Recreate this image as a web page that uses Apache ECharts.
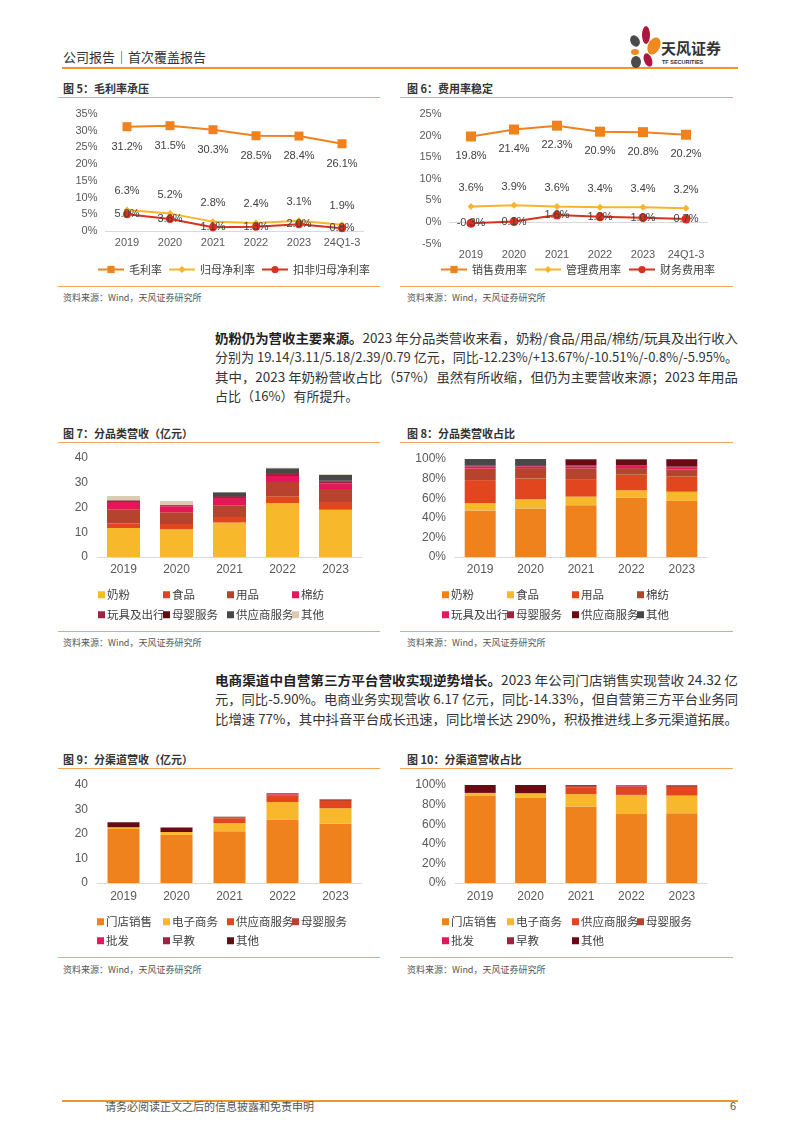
<!DOCTYPE html>
<html><head><meta charset="utf-8">
<script src="https://cdn.jsdelivr.net/npm/echarts/dist/echarts.min.js"></script>
<style>
body{margin:0;background:#fff;}
#page{position:relative;width:802px;height:1133px;overflow:hidden;background:#fff;font-family:"Liberation Sans","Noto Sans CJK SC",sans-serif;color:#333;}
.abs{position:absolute;white-space:nowrap;}
.rule{position:absolute;height:0;border-top:1.5px solid #F4A55A;}
.ttl{position:absolute;font-size:11px;font-weight:bold;color:#333;line-height:14px;white-space:nowrap;font-family:"Noto Sans CJK SC",sans-serif;}
.src{position:absolute;font-size:9px;color:#555;line-height:12px;white-space:nowrap;font-family:"Noto Sans CJK SC",sans-serif;}
.chart{position:absolute;width:350px;height:185px;}
.ln{position:absolute;left:215px;font-size:13px;line-height:18px;white-space:nowrap;transform-origin:0 0;color:#333;font-family:"Liberation Sans Narrow","Noto Sans CJK SC",sans-serif;}
.ln b{color:#222;font-family:"Noto Sans CJK SC",sans-serif;}
</style></head>
<body><div id="page">
<!-- header -->
<div class="abs" style="left:63px;top:49px;font-size:13px;line-height:16px;color:#333;font-family:'Noto Sans CJK SC',sans-serif;">公司报告｜首次覆盖报告</div>
<div style="position:absolute;left:62px;top:67px;width:676px;height:2px;background:#F0962D;"></div>
<svg style="position:absolute;left:626px;top:24px;" width="40" height="46" viewBox="0 0 40 46">
  <ellipse cx="20" cy="11" rx="4" ry="9" fill="#B0163C"/>
  <ellipse cx="9" cy="17" rx="4.5" ry="6" fill="#4A4A4A" transform="rotate(-30 9 17)"/>
  <ellipse cx="28" cy="22" rx="6" ry="9" fill="#F08A1E" transform="rotate(25 28 22)"/>
  <ellipse cx="9" cy="28" rx="4" ry="3" fill="#F08A1E"/>
  <ellipse cx="10" cy="38" rx="5" ry="6" fill="#4A4A4A"/>
  <ellipse cx="22" cy="36" rx="4" ry="7" fill="#B0163C" transform="rotate(-20 22 36)"/>
</svg>
<div class="abs" style="left:661px;top:39px;font-size:15px;line-height:18px;font-weight:bold;color:#333;font-family:'Noto Sans CJK SC',sans-serif;">天风证券</div>
<div class="abs" style="left:662px;top:59px;font-size:5.5px;line-height:7px;color:#333;font-weight:bold;">TF SECURITIES</div>

<!-- panel titles and rules -->
<div class="ttl" style="left:63px;top:81px;">图 5：毛利率承压</div>
<div class="ttl" style="left:407px;top:81px;">图 6：费用率稳定</div>
<div class="rule" style="left:58px;top:97px;width:322px;"></div>
<div class="rule" style="left:400px;top:97px;width:333px;"></div>
<div class="rule" style="left:58px;top:286px;width:322px;"></div>
<div class="rule" style="left:400px;top:286px;width:333px;"></div>
<div class="src" style="left:63px;top:292px;">资料来源：Wind，天风证券研究所</div>
<div class="src" style="left:407px;top:292px;">资料来源：Wind，天风证券研究所</div>

<div class="ln fit" style="top:329px;"><b>奶粉仍为营收主要来源。</b>2023 年分品类营收来看，奶粉/食品/用品/棉纺/玩具及出行收入</div>
<div class="ln fit" style="top:348px;">分别为 19.14/3.11/5.18/2.39/0.79 亿元，同比-12.23%/+13.67%/-10.51%/-0.8%/-5.95%。</div>
<div class="ln fit" style="top:368px;">其中，2023 年奶粉营收占比（57%）虽然有所收缩，但仍为主要营收来源；2023 年用品</div>
<div class="ln" style="top:387px;">占比（16%）有所提升。</div>

<div class="ttl" style="left:63px;top:426px;">图 7：分品类营收（亿元）</div>
<div class="ttl" style="left:407px;top:426px;">图 8：分品类营收占比</div>
<div class="rule" style="left:58px;top:442px;width:322px;"></div>
<div class="rule" style="left:400px;top:442px;width:333px;"></div>
<div class="rule" style="left:58px;top:631px;width:322px;"></div>
<div class="rule" style="left:400px;top:631px;width:333px;"></div>
<div class="src" style="left:63px;top:637px;">资料来源：Wind，天风证券研究所</div>
<div class="src" style="left:407px;top:637px;">资料来源：Wind，天风证券研究所</div>

<div class="ln fit" style="top:671px;"><b>电商渠道中自营第三方平台营收实现逆势增长。</b>2023 年公司门店销售实现营收 24.32 亿</div>
<div class="ln fit" style="top:690px;">元，同比-5.90%。电商业务实现营收 6.17 亿元，同比-14.33%，但自营第三方平台业务同</div>
<div class="ln fit" style="top:710px;">比增速 77%，其中抖音平台成长迅速，同比增长达 290%，积极推进线上多元渠道拓展。</div>

<div class="ttl" style="left:63px;top:752px;">图 9：分渠道营收（亿元）</div>
<div class="ttl" style="left:407px;top:752px;">图 10：分渠道营收占比</div>
<div class="rule" style="left:58px;top:768px;width:322px;"></div>
<div class="rule" style="left:400px;top:768px;width:333px;"></div>
<div class="rule" style="left:58px;top:957px;width:322px;"></div>
<div class="rule" style="left:400px;top:957px;width:333px;"></div>
<div class="src" style="left:63px;top:964px;">资料来源：Wind，天风证券研究所</div>
<div class="src" style="left:407px;top:964px;">资料来源：Wind，天风证券研究所</div>

<!-- footer -->
<div style="position:absolute;left:62px;top:1100px;width:676px;height:2px;background:#F0962D;"></div>
<div class="abs" style="left:105px;top:1099px;font-size:11px;line-height:14px;color:#555;font-family:'Noto Sans CJK SC',sans-serif;">请务必阅读正文之后的信息披露和免责申明</div>
<div class="abs" style="left:730px;top:1099px;font-size:11px;line-height:14px;color:#555;">6</div>

<div id="c5" class="chart" style="left:50px;top:100px;"></div>
<div id="c6" class="chart" style="left:400px;top:100px;"></div>
<div id="c7" class="chart" style="left:50px;top:445px;"></div>
<div id="c8" class="chart" style="left:400px;top:445px;"></div>
<div id="c9" class="chart" style="left:50px;top:770px;"></div>
<div id="c10" class="chart" style="left:400px;top:770px;"></div>
</div>
<script>
// ---------- data ----------
const years5 = ['2019','2020','2021','2022','2023'];
const years6 = ['2019','2020','2021','2022','2023','24Q1-3'];

// Fig 5 (%)
const grossMargin  = [31.2, 31.5, 30.3, 28.5, 28.4, 26.1];
const netMargin    = [6.3, 5.2, 2.8, 2.4, 3.1, 1.9];
const adjNetMargin = [5.0, 3.6, 1.1, 1.3, 2.0, 0.8];
const pctTicks5 = [0, 35, 5];

// Fig 6 (%)
const sellingRate = [19.8, 21.4, 22.3, 20.9, 20.8, 20.2];
const adminRate   = [3.6, 3.9, 3.6, 3.4, 3.4, 3.2];
const financeRate = [-0.3, 0.1, 1.6, 1.2, 1.0, 0.7];
const pctTicks6 = [-5, 25, 5];

// Fig 7 / 8 (亿元)
const catNames = ['奶粉','食品','用品','棉纺','玩具及出行','母婴服务','供应商服务','其他'];
const milkPowder = [11.7, 11.2, 13.9, 21.81, 19.14];
const food       = [1.8, 2.1, 2.3, 2.74, 3.11];
const supplies   = [5.8, 4.8, 4.7, 5.79, 5.18];
const textiles   = [2.9, 2.4, 2.9, 2.41, 2.39];
const toys       = [0.5, 0.4, 0.5, 0.84, 0.79];
const babyServ   = [0.2, 0.1, 0.3, 0.3, 0.2];
const supplierServ = [0, 0, 1.6, 2.0, 2.3];
const otherCat   = [1.7, 1.6, 0.1, 0.2, 0.3];

// Fig 9 / 10 (亿元)
const chNames = ['门店销售','电子商务','供应商服务','母婴服务','批发','早教','其他'];
const storeSales = [22.0, 19.7, 21.1, 25.85, 24.32];
const eCommerce  = [0.8, 1.1, 3.4, 7.20, 6.17];
const chSupplier = [0, 0, 1.9, 2.6, 3.0];
const chBaby     = [0, 0, 0.3, 0.5, 0.4];
const wholesale  = [0, 0, 0, 0.4, 0.1];
const earlyEdu   = [0, 0, 0.1, 0.1, 0.1];
const chOther    = [2.0, 1.9, 0.2, 0.1, 0.1];

// ---------- helpers ----------
const FONT = '"Liberation Sans","Noto Sans CJK SC",sans-serif';
const CJK = '"Noto Sans CJK SC","Liberation Sans",sans-serif';
const AX = '#595959';

function lineSeries(name, data, color, symbol, size, pos, dist){
  return {name, type:'line', data, symbol, symbolSize:size, showAllSymbol:true,
    itemStyle:{color}, lineStyle:{color, width:2},
    label:{show:true, position:pos, distance:dist, fontSize:11, color:'#404040', fontFamily:FONT,
      formatter:p=>Number(p.value).toFixed(1)+'%'}};
}
function lineChart(id, grid, cats, ticks, series, legendLeft, legendGap){
  const c = echarts.init(document.getElementById(id), null, {renderer:'canvas'});
  c.setOption({
    animation:false,
    grid,
    legend:{left:legendLeft, top:159, itemWidth:26, itemHeight:9, itemGap:legendGap,
      textStyle:{fontSize:11, color:'#404040', fontFamily:CJK}, data:series.map(s=>s.name)},
    xAxis:{type:'category', data:cats, boundaryGap:true,
      axisLine:{lineStyle:{color:'#D9D9D9'}}, axisTick:{show:false},
      axisLabel:{color:AX, fontSize:11, margin:6, interval:0, fontFamily:FONT}},
    yAxis:{type:'value', min:ticks[0], max:ticks[1], interval:ticks[2],
      axisLine:{show:false}, axisTick:{show:false}, splitLine:{show:false},
      axisLabel:{color:AX, fontSize:11, margin:8, fontFamily:FONT, formatter:'{value}%'}},
    series
  });
}
function barChart(id, grid, cats, names, arrays, colors, opts){
  const c = echarts.init(document.getElementById(id), null, {renderer:'canvas'});
  let data = arrays;
  if (opts.percent){
    const tot = cats.map((_,j)=>arrays.reduce((s,a)=>s+a[j],0));
    data = arrays.map(a=>a.map((v,j)=>v/tot[j]*100));
  }
  const legends = names.map((n,i)=>({
    data:[n], left:opts.legX[i%4], top:opts.legY[Math.floor(i/4)],
    icon:'rect', itemWidth:7, itemHeight:7, itemGap:0, padding:0,
    textStyle:{fontSize:11.5, color:'#404040', fontFamily:CJK, padding:[0,0,0,-3]}
  }));
  c.setOption({
    animation:false,
    grid,
    legend:legends,
    xAxis:{type:'category', data:cats,
      axisLine:{lineStyle:{color:'#D9D9D9'}}, axisTick:{show:false},
      axisLabel:{color:AX, fontSize:12, margin:opts.xMargin, interval:0, fontFamily:FONT}},
    yAxis:{type:'value', min:0, max:opts.max, interval:opts.interval,
      axisLine:{show:false}, axisTick:{show:false}, splitLine:{show:false},
      axisLabel:{color:AX, fontSize:12, margin:9, fontFamily:FONT, formatter:opts.percent?'{value}%':'{value}'}},
    series: names.map((n,i)=>({name:n, type:'bar', stack:'s', barWidth:opts.barWidth,
      data:data[i], itemStyle:{color:colors[i]}}))
  });
}

// ---------- charts ----------
lineChart('c5', {left:55.5, top:14, width:258, height:117}, years6, pctTicks5, [
  lineSeries('毛利率', grossMargin, '#F0821E', 'rect', 9, 'bottom', 10),
  lineSeries('归母净利率', netMargin, '#F6B52A', 'diamond', 7, 'top', 10),
  lineSeries('扣非归母净利率', adjNetMargin, '#D8321E', 'circle', 8, 'inside', 0)
], 42, 6);

lineChart('c6', {left:49.5, top:14, width:258, height:129.6}, years6, pctTicks6, [
  lineSeries('销售费用率', sellingRate, '#F0821E', 'rect', 10, 'bottom', 9),
  lineSeries('管理费用率', adminRate, '#F6B52A', 'diamond', 7, 'top', 9),
  lineSeries('财务费用率', financeRate, '#D8321E', 'circle', 9, 'inside', 0)
], 35, 7);

const catArrays = [milkPowder, food, supplies, textiles, toys, babyServ, supplierServ, otherCat];
barChart('c7', {left:47, top:13, width:265, height:99}, years5, catNames, catArrays,
  ['#F7B92B','#E2461E','#B5432E','#E4175A','#A3213F','#5E0B16','#484848','#DCCBB2'],
  {max:40, interval:10, barWidth:33, xMargin:7, legX:[48,113,177,242], legY:[144,164]});

barChart('c8', {left:55, top:14, width:252, height:98}, years5, catNames, catArrays,
  ['#F0821E','#F7B92B','#E2461E','#B5432E','#E4175A','#A3213F','#6A0A12','#484848'],
  {percent:true, max:100, interval:20, barWidth:31, xMargin:7, legX:[42,107,172,237], legY:[144,164]});

const chArrays = [storeSales, eCommerce, chSupplier, chBaby, wholesale, earlyEdu, chOther];
const chColors = ['#F0821E','#F7B92B','#E2461E','#B5432E','#E4175A','#A3213F','#6A0A12'];
barChart('c9', {left:47, top:15, width:265, height:98}, years5, chNames, chArrays, chColors,
  {max:40, interval:10, barWidth:32, xMargin:8, legX:[47,113,177,242], legY:[146,165]});

barChart('c10', {left:55, top:15, width:252, height:98}, years5, chNames, chArrays, chColors,
  {percent:true, max:100, interval:20, barWidth:31, xMargin:8, legX:[42,107,172,237], legY:[146,165]});

// fit justified text lines to column width
document.querySelectorAll('.fit').forEach(el=>{
  const w = el.getBoundingClientRect().width;
  el.style.transform = 'scaleX(' + (523 / w) + ')';
});
</script>
</body></html>
